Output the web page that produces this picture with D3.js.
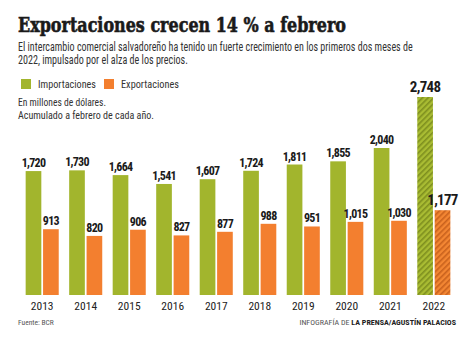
<!DOCTYPE html>
<html>
<head>
<meta charset="utf-8">
<script src="https://cdn.jsdelivr.net/npm/d3@7"></script>
<style>
  html, body { margin: 0; padding: 0; background: #fff; }
  svg { display: block; }
  .narrow { font-family: "Liberation Sans Narrow", "Roboto Condensed", "Roboto", sans-serif; font-stretch: condensed; }
</style>
</head>
<body>
<svg id="chart" width="474" height="344"></svg>
<script>
// Intercambio comercial, millones de US$, acumulado a febrero
const years = ["2013", "2014", "2015", "2016", "2017", "2018", "2019", "2020", "2021", "2022"];
const importaciones = [1720, 1730, 1664, 1541, 1607, 1724, 1811, 1855, 2040, 2748];
const exportaciones = [913, 820, 906, 827, 877, 988, 951, 1015, 1030, 1177];
const seriesNames = ["Importaciones", "Exportaciones"];
const colors = { imp: "#a2b52d", exp: "#f37f2f" };

const fmt = d3.format(",");
const svg = d3.select("#chart");

// patrones rayados para el año en curso
const defs = svg.append("defs");
function hatch(id, base, stripe) {
  const p = defs.append("pattern")
    .attr("id", id)
    .attr("patternUnits", "userSpaceOnUse")
    .attr("width", 4).attr("height", 4)
    .attr("patternTransform", "rotate(45)");
  p.append("rect").attr("width", 4).attr("height", 4).attr("fill", base);
  p.append("rect").attr("width", 1.6).attr("height", 4).attr("fill", stripe);
}
hatch("hatch-imp", "#a9bc33", "#7e8f1f");
hatch("hatch-exp", "#f38633", "#c9611d");

// titulo (trazo extra para engrosarlo)
svg.append("text")
  .attr("x", 18).attr("y", 32)
  .attr("font-family", "DejaVu Serif")
  .attr("font-weight", "bold")
  .attr("font-size", 20)
  .attr("fill", "#1a1a1a")
  .attr("stroke", "#1a1a1a")
  .attr("stroke-width", 0.6)
  .attr("textLength", 328)
  .attr("lengthAdjust", "spacingAndGlyphs")
  .text("Exportaciones crecen 14 % a febrero");

// bajada: se estrecha con scaleX hasta el ancho deseado
const sub = [
  ["El intercambio comercial salvadoreño ha tenido un fuerte crecimiento en los primeros dos meses de", 395],
  ["2022, impulsado por el alza de los precios.", 170]
];
svg.selectAll("text.sub")
  .data(sub)
  .join("text")
  .attr("class", "sub narrow")
  .attr("font-size", 12)
  .attr("fill", "#333")
  .text(d => d[0])
  .attr("transform", function (d, i) {
    const w = this.getComputedTextLength();
    return `translate(18,${51 + i * 13}) scale(${d[1] / w},1)`;
  });

// leyenda
const legend = svg.append("g").attr("class", "narrow");
const legX = [21, 104];
const legW = [58, 58];
seriesNames.forEach((name, i) => {
  legend.append("rect")
    .attr("x", legX[i]).attr("y", 79)
    .attr("width", 10).attr("height", 10)
    .attr("fill", i === 0 ? colors.imp : colors.exp);
  legend.append("text")
    .attr("x", legX[i] + 17).attr("y", 88)
    .attr("font-size", 11.5)
    .attr("fill", "#333")
    .attr("textLength", legW[i])
    .attr("lengthAdjust", "spacingAndGlyphs")
    .text(name);
});

const notes = [["En millones de dólares.", 88], ["Acumulado a febrero de cada año.", 136]];
svg.selectAll("text.note")
  .data(notes)
  .join("text")
  .attr("class", "note narrow")
  .attr("x", 18)
  .attr("y", (d, i) => 106 + i * 13)
  .attr("font-size", 11.5)
  .attr("fill", "#333")
  .attr("textLength", d => d[1])
  .attr("lengthAdjust", "spacingAndGlyphs")
  .text(d => d[0]);

// escalas
const x0 = d3.scaleBand().domain(years).range([20, 456]).paddingInner(0.24).paddingOuter(0.13);
const x1 = d3.scaleBand().domain(["imp", "exp"]).range([0, x0.bandwidth()]).paddingInner(0.1);
const y = d3.scaleLinear().domain([0, 2748]).range([295, 97]);

const data = years.map((yr, i) => ({ year: yr, imp: importaciones[i], exp: exportaciones[i] }));
const last = years[years.length - 1];

const groups = svg.append("g")
  .selectAll("g")
  .data(data)
  .join("g")
  .attr("transform", d => `translate(${x0(d.year)},0)`);

groups.selectAll("rect")
  .data(d => ["imp", "exp"].map(k => ({ key: k, value: d[k], year: d.year })))
  .join("rect")
  .attr("x", d => x1(d.key))
  .attr("y", d => y(d.value))
  .attr("width", x1.bandwidth())
  .attr("height", d => y(0) - y(d.value))
  .attr("fill", d => d.year === last ? `url(#hatch-${d.key})` : colors[d.key]);

groups.selectAll("text.val")
  .data(d => ["imp", "exp"].map(k => ({ key: k, value: d[k], year: d.year })))
  .join("text")
  .attr("class", "val narrow")
  .attr("x", d => x1(d.key) + x1.bandwidth() / 2)
  .attr("y", d => y(d.value) - (d.year === last ? 5 : 4))
  .attr("text-anchor", "middle")
  .attr("font-weight", "bold")
  .attr("font-size", d => d.year === last ? 15 : 12)
  .attr("letter-spacing", -0.7)
  .attr("fill", "#1a1a1a")
  .text(d => fmt(d.value));

// eje x
const xAxis = svg.append("g")
  .attr("transform", "translate(0,295)")
  .call(d3.axisBottom(x0).tickSize(0).tickPadding(7));
xAxis.select(".domain").remove();
xAxis.selectAll("text")
  .attr("class", "narrow")
  .attr("font-family", null)
  .attr("font-size", 11.5)
  .attr("fill", "#222");

// pie
svg.append("text")
  .attr("class", "narrow")
  .attr("x", 18).attr("y", 325)
  .attr("font-size", 7.5)
  .attr("fill", "#555")
  .text("Fuente: BCR");

const credit = svg.append("text")
  .attr("class", "narrow")
  .attr("x", 456).attr("y", 325)
  .attr("text-anchor", "end")
  .attr("font-size", 8)
  .attr("fill", "#555");
credit.append("tspan").text("INFOGRAFÍA DE ");
credit.append("tspan").attr("font-weight", "bold").attr("fill", "#222").text("LA PRENSA/AGUSTÍN PALACIOS");
</script>
</body>
</html>
